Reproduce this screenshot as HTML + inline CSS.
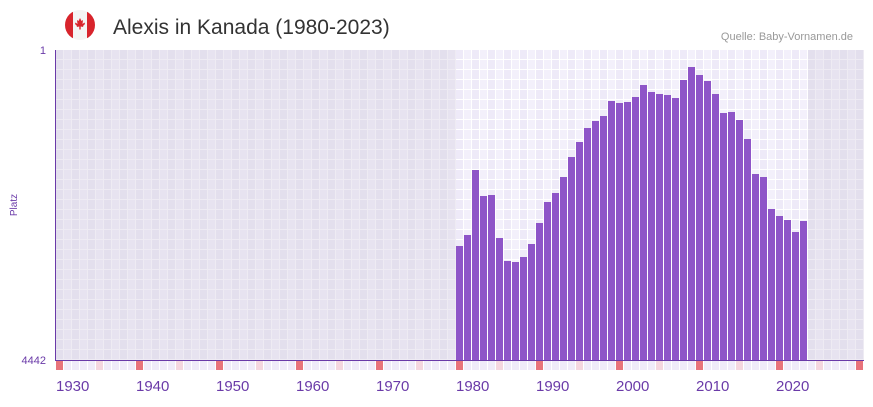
<!DOCTYPE html>
<html><head><meta charset="utf-8"><style>
body{margin:0;background:#fff;width:873px;height:402px;overflow:hidden;font-family:"Liberation Sans",sans-serif}
</style></head><body>
<svg width="873" height="402" xmlns="http://www.w3.org/2000/svg">
<defs>
<pattern id="gd" x="56" y="50" width="16" height="10" patternUnits="userSpaceOnUse">
<rect width="16" height="10" fill="#eeebf3"/>
<rect x="0" y="0" width="7" height="9" fill="#e3dfed"/>
<rect x="8" y="0" width="7" height="9" fill="#e7e3f0"/>
</pattern>
<pattern id="gl" x="56" y="50" width="16" height="10" patternUnits="userSpaceOnUse">
<rect width="16" height="10" fill="#ffffff"/>
<rect x="0" y="0" width="7" height="9" fill="#eeeaf8"/>
<rect x="8" y="0" width="7" height="9" fill="#f3f0fb"/>
</pattern>
</defs>
<rect x="56" y="50" width="808" height="310" fill="url(#gd)"/>
<rect x="456" y="50" width="352" height="310" fill="url(#gl)"/>
<g id="marks"></g>
<g id="bars" fill="#8e55c8"></g>
<line x1="55.5" y1="50" x2="55.5" y2="360" stroke="#6a3aa8" stroke-width="1"/>
<line x1="55" y1="360.5" x2="864" y2="360.5" stroke="#6a3aa8" stroke-width="1"/>
<text x="46" y="54" font-size="11" fill="#6a3aa8" text-anchor="end">1</text>
<text x="46" y="364" font-size="11" fill="#6a3aa8" text-anchor="end">4442</text>
<text x="17" y="205" font-size="10" fill="#6a3aa8" text-anchor="middle" transform="rotate(-90 17 205)">Platz</text>
<g id="xl" font-size="15" fill="#6a3aa8"></g>
<text x="113" y="34" font-size="21" fill="#333">Alexis in Kanada (1980-2023)</text>
<text x="853" y="40" font-size="11" fill="#999" text-anchor="end">Quelle: Baby-Vornamen.de</text>
<clipPath id="cc"><circle cx="80" cy="25" r="15"/></clipPath>
<g clip-path="url(#cc)">
<rect x="64" y="9" width="32" height="32" fill="#f4f4f4"/>
<rect x="64" y="9" width="9" height="32" fill="#d8242c"/>
<rect x="87" y="9" width="9" height="32" fill="#d8242c"/>
<path d="M80 18 l1.5 3 1.5-1 -0.5 4 2-1.5 0.5 1.5 -2 2 0.3 1 -2.6-0.5 v3 h-1.4 v-3 l-2.6 0.5 0.3-1 -2-2 0.5-1.5 2 1.5 -0.5-4 1.5 1z" fill="#d8242c"/>
</g>
</svg>
<script>
const ns="http://www.w3.org/2000/svg";
const tops=[246,235,170,196,195,238,261,262,257,244,223,202,193,177,157,142,128,121,116,101,103,102,97,85,92,94,95,98,80,67,75,81,94,113,112,120,139,174,177,209,216,220,232,221];
const b=document.getElementById('bars');
tops.forEach((t,i)=>{const r=document.createElementNS(ns,'rect');r.setAttribute('x',456+i*8);r.setAttribute('y',t);r.setAttribute('width',7);r.setAttribute('height',360-t);b.appendChild(r);});
const m=document.getElementById('marks');
for(let i=0;i<101;i++){const y=1930+i;const r=document.createElementNS(ns,'rect');r.setAttribute('x',56+i*8);r.setAttribute('y',361);r.setAttribute('width',7);r.setAttribute('height',9);r.setAttribute('fill',y%10==0?'#e8737b':(y%5==0?'#f5d6df':'#f0ebf9'));m.appendChild(r);}
const xl=document.getElementById('xl');
for(let y=1930;y<=2020;y+=10){const t=document.createElementNS(ns,'text');t.setAttribute('x',56+(y-1930)*8);t.setAttribute('y',391);t.textContent=y;xl.appendChild(t);}
</script>
</body></html>
